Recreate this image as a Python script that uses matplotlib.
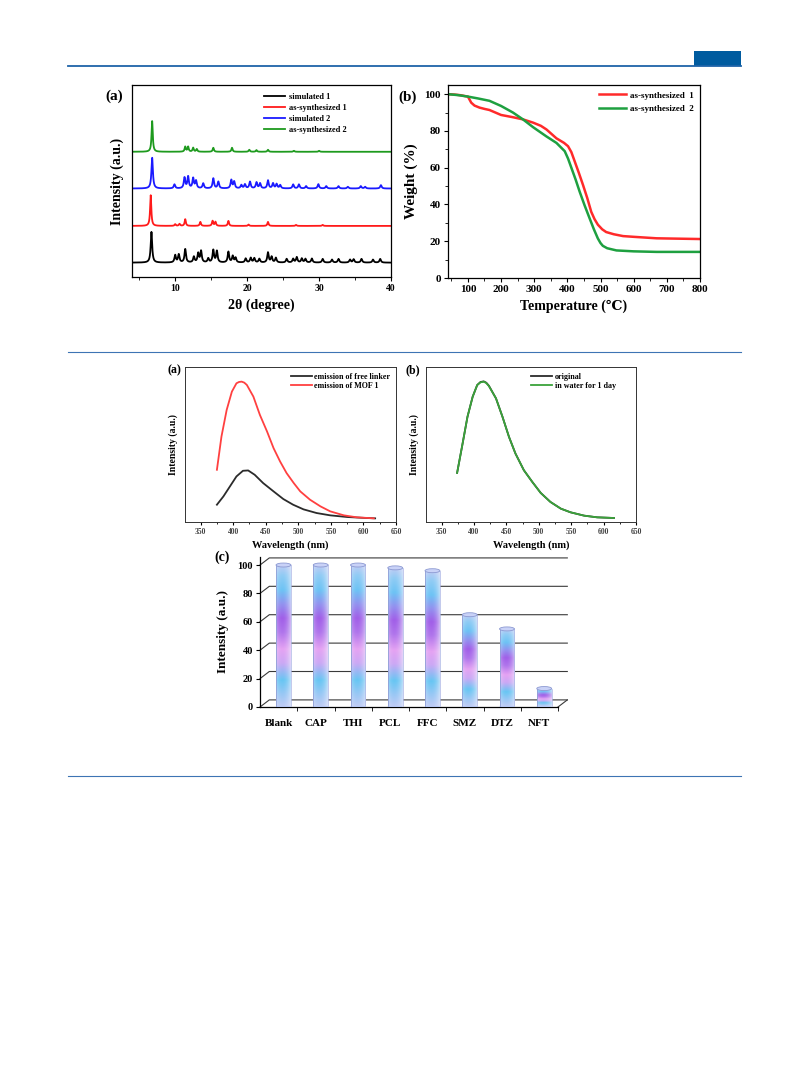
import numpy as np
import matplotlib
matplotlib.use("Agg")
import matplotlib.pyplot as plt
from matplotlib.patches import Ellipse, Rectangle
from matplotlib.lines import Line2D
from matplotlib.colors import LinearSegmentedColormap, to_rgb

plt.rcParams['font.family'] = ['Liberation Serif', 'DejaVu Serif', 'DejaVu Sans']
plt.rcParams['font.weight'] = 'bold'
plt.rcParams['axes.linewidth'] = 0.9

W, H = 809, 1067

# ---------- PXRD peak lists (2theta, relative height) ----------
sim1_pos = [6.7, 10.0, 10.5, 11.4, 12.6, 13.2, 13.6, 14.6, 15.3, 15.8, 17.4, 18.0, 18.4, 19.8,
            20.5, 21.0, 21.7, 22.9, 23.4, 24.0, 25.5, 26.4, 26.9, 27.6, 28.1, 29.0, 30.5,
            31.8, 32.7, 34.3, 34.8, 35.9, 37.5, 38.5]
sim1_int = [92, 22, 24, 40, 17, 27, 34, 12, 37, 34, 32, 19, 14, 12,
            14, 13, 11, 30, 17, 14, 11, 11, 16, 12, 11, 12, 11,
            9, 11, 9, 10, 11, 9, 11]
syn1_pos = [6.6, 10.0, 10.6, 11.4, 13.5, 15.2, 15.6, 17.4, 20.2, 22.9, 26.8, 30.5]
syn1_int = [92, 5, 6, 20, 12, 15, 12, 15, 4, 12, 3, 3]
sim2_pos = [6.8, 9.9, 11.3, 11.8, 12.5, 12.9, 13.9, 15.3, 16.0, 17.8, 18.2, 19.2, 19.7, 20.4,
            21.3, 21.8, 22.9, 23.6, 24.1, 24.6, 26.4, 27.2, 28.2, 29.9, 31.0, 32.7, 34.0,
            35.8, 36.4, 38.6]
sim2_int = [92, 12, 32, 35, 30, 22, 15, 30, 20, 25, 20, 10, 12, 20,
            18, 15, 24, 15, 13, 10, 12, 12, 7, 13, 7, 7, 5,
            7, 5, 10]
syn2_pos = [6.8, 11.4, 11.8, 12.5, 13.0, 15.3, 17.9, 20.3, 21.3, 22.9, 26.5, 30.0]
syn2_int = [92, 15, 15, 12, 8, 12, 12, 6, 5, 6, 3, 3]

# ---------- TGA ----------
temp1 = [40, 60, 80, 90, 100, 110, 120, 135, 150, 165, 200, 235, 266, 297, 320, 337, 367, 390,
         402, 412, 422, 435, 447, 460, 472, 482, 492, 505, 517, 540, 568, 600, 669, 700, 800]
weight1 = [100, 99.8, 99.4, 99.0, 98.7, 95.4, 93.8, 92.7, 92.0, 91.4, 88.7, 87.5, 86.3, 84.5,
           82.8, 80.8, 76.0, 73.5, 71.7, 68.5, 63.5, 57.0, 50.7, 43.5, 36.0, 32.0, 29.0, 26.5,
           25.0, 23.8, 22.8, 22.4, 21.6, 21.5, 21.2]
temp2 = [40, 70, 100, 130, 165, 200, 236, 266, 297, 337, 367, 392, 402, 412, 425, 437, 452, 467,
         480, 492, 500, 507, 520, 548, 600, 669, 800]
weight2 = [100, 99.5, 98.7, 97.7, 96.4, 93.6, 90.0, 86.3, 82.0, 77.0, 73.5, 69.0, 65.0, 60.0,
           53.5, 47.0, 39.5, 32.5, 26.5, 21.5, 19.0, 17.5, 16.2, 15.0, 14.5, 14.2, 14.2]

# ---------- emission spectra ----------
wl_linker = [375, 385, 395, 405, 415, 423, 433, 446, 462, 477, 492, 508, 528, 549, 575, 605, 618]
em_linker = [52, 77, 107, 137, 154, 155, 142, 117, 92, 69, 52, 38, 27, 20, 15, 12, 11]
wl_mof = [375, 382, 390, 398, 405, 409, 413, 417, 421, 431, 441, 452, 462, 472, 482, 493, 503,
          518, 534, 549, 570, 590, 616]
em_mof = [157, 257, 337, 392, 417, 421, 422, 419, 412, 377, 322, 272, 222, 182, 147, 117, 92,
          67, 47, 32, 20, 14, 11]
wl_b = [374, 382, 390, 398, 405, 410, 415, 419, 423, 434, 444, 454, 464, 477, 490, 503, 518,
        534, 549, 570, 590, 616]
em_original = [147, 230, 315, 375, 410, 419, 421, 417, 408, 370, 315, 255, 205, 155, 120, 87,
               60, 40, 29, 19, 14, 12]
em_water = [147, 230, 315, 375, 410, 418, 420, 416, 407, 370, 315, 255, 205, 155, 120, 87,
            60, 40, 29, 19, 14, 12]

# ---------- sensing bars ----------
analytes = ["Blank", "CAP", "THI", "PCL", "FFC", "SMZ", "DTZ", "NFT"]
rel_intensity = [100, 100, 100, 98, 96, 65, 55, 13]


def rect(l, t, r, b):
    return [l / W, 1 - b / H, (r - l) / W, (b - t) / H]


def pattern(x, pos, hts, fwhm):
    g = fwhm / 2.0
    y = np.zeros_like(x)
    for p, h in zip(pos, hts):
        y += h * g ** 2 / ((x - p) ** 2 + g ** 2)
    return y


fig = plt.figure(figsize=(W / 100, H / 100), dpi=100)

# page decorations
fig.add_artist(Line2D([68 / W, 741 / W], [1 - 66 / H] * 2, color='#1f63a8', lw=1.3))
fig.add_artist(Rectangle((694 / W, 1 - 66 / H), 47 / W, 15 / H, color='#005b9f', lw=0))
for yy in (352, 776):
    fig.add_artist(Line2D([68 / W, 741 / W], [1 - yy / H] * 2, color='#3d74b4', lw=0.8))

# ---------- (a) PXRD ----------
ax1 = fig.add_axes(rect(132, 85, 391, 277))
tt = np.linspace(4, 40, 4000)
series = [(sim1_pos, sim1_int, 0, 'black', 'simulated 1', 0.24),
          (syn1_pos, syn1_int, 110, '#ff1a1a', 'as-synthesized 1', 0.2),
          (sim2_pos, sim2_int, 222, '#1a1aff', 'simulated 2', 0.24),
          (syn2_pos, syn2_int, 332, '#1e9a1e', 'as-synthesized 2', 0.2)]
for pos, hts, off, col, lab, fw in series:
    ax1.plot(tt, pattern(tt, pos, hts, fw) + off, color=col, lw=1.3, label=lab)
ax1.set_xlim(4, 40)
ax1.set_ylim(-43, 532)
ax1.set_yticks([])
ax1.set_xticks([10, 20, 30, 40])
ax1.set_xticks([5, 15, 25, 35], minor=True)
ax1.tick_params(axis='x', which='major', direction='out', length=3, labelsize=7, pad=2)
ax1.tick_params(axis='x', which='minor', direction='out', length=2)
ax1.set_xlabel('2θ (degree)', fontsize=10, fontweight='bold', labelpad=4)
ax1.set_ylabel('Intensity (a.u.)', fontsize=10, fontweight='bold', labelpad=6)
ax1.legend(loc='upper right', fontsize=6, frameon=False, handlelength=2.6, handletextpad=0.4,
           labelspacing=0.35, borderaxespad=0.6, bbox_to_anchor=(0.86, 1.0))
fig.text(105 / W, 1 - 96 / H, '(a)', fontsize=11, fontweight='bold', va='center')

# ---------- (b) TGA ----------
ax2 = fig.add_axes(rect(448, 85, 700, 278))
ax2.plot(temp1, weight1, color='#ff2a2a', lw=1.8, label='as-synthesized  1')
ax2.plot(temp2, weight2, color='#1ea040', lw=1.8, label='as-synthesized  2')
ax2.set_xlim(40, 800)
ax2.set_ylim(0, 105)
ax2.set_xticks(range(100, 801, 100))
ax2.set_xticks(range(50, 801, 100), minor=True)
ax2.set_yticks(range(0, 101, 20))
ax2.set_yticks(range(10, 101, 20), minor=True)
ax2.tick_params(which='major', direction='out', length=3, labelsize=8, pad=2)
ax2.tick_params(which='minor', direction='out', length=2)
ax2.set_xlabel('Temperature (℃)', fontsize=10, fontweight='bold', labelpad=4)
ax2.set_ylabel('Weight (%)', fontsize=11, fontweight='bold', labelpad=5)
ax2.legend(loc='upper right', fontsize=6.5, frameon=False, handlelength=3.0, handletextpad=0.4,
           labelspacing=0.6, borderaxespad=0.3)
fig.text(398 / W, 1 - 97 / H, '(b)', fontsize=11, fontweight='bold', va='center')


def emission_axes(r):
    ax = fig.add_axes(r)
    ax.set_xlim(326, 650)
    ax.set_xticks(range(350, 651, 50))
    ax.set_xticks(range(375, 651, 50), minor=True)
    ax.set_yticks([])
    ax.tick_params(axis='x', which='major', direction='out', length=2.5, labelsize=5.5,
                   pad=2, labelcolor='#444444')
    ax.tick_params(axis='x', which='minor', direction='out', length=1.5)
    ax.set_xlabel('Wavelength (nm)', fontsize=7.5, fontweight='bold', labelpad=3)
    ax.set_ylabel('Intensity (a.u.)', fontsize=7, fontweight='bold', labelpad=5)
    for s in ax.spines.values():
        s.set_linewidth(0.7)
        s.set_color('#333333')
    return ax


# ---------- emission (a) ----------
ax3 = emission_axes(rect(185, 367, 396, 522))
ax3.plot(wl_linker, em_linker, color='#2b2b2b', lw=1.3, label='emission of free linker')
ax3.plot(wl_mof, em_mof, color='#ff4040', lw=1.3, label='emission of MOF 1')
ax3.set_ylim(0, 466)
ax3.legend(loc='upper right', fontsize=5.8, frameon=False, handlelength=2.6, handletextpad=0.3,
           labelspacing=0.2, borderaxespad=0.3)
fig.text(167 / W, 1 - 370 / H, '(a)', fontsize=8.5, fontweight='bold', va='center')

# ---------- emission (b) ----------
ax4 = emission_axes(rect(426, 367, 636, 522))
ax4.plot(wl_b, em_original, color='#2b2b2b', lw=1.3, label='original')
ax4.plot(wl_b, em_water, color='#3aa23a', lw=1.3, label='in water for 1 day')
ax4.set_ylim(0, 464)
ax4.legend(loc='upper right', fontsize=5.8, frameon=False, handlelength=2.6, handletextpad=0.3,
           labelspacing=0.2, borderaxespad=0.3, bbox_to_anchor=(0.93, 1.0))
fig.text(405 / W, 1 - 370 / H, '(b)', fontsize=8.5, fontweight='bold', va='center')

# ---------- (c) bar chart ----------
ax5 = fig.add_axes(rect(260, 556.5, 558, 707))
dx, dy = 0.25, 5.0
ticks_c = [0, 20, 40, 60, 80, 100]
for v in ticks_c:
    ax5.plot([-0.5, -0.5 + dx, 7.5 + dx], [v, v + dy, v + dy], color='#3a3a3a', lw=0.8,
             zorder=1, clip_on=False)
ax5.plot([7.5, 7.5 + dx], [0, dy], color='#3a3a3a', lw=0.8, zorder=1, clip_on=False)

stops = [(0.00, '#b8c8f4'), (0.08, '#92c4f4'), (0.18, '#5cc2f2'), (0.30, '#c8a2f4'),
         (0.40, '#e49cf2'), (0.52, '#aa6aea'), (0.62, '#9a52e6'), (0.72, '#8a8aee'),
         (0.82, '#62bff4'), (0.92, '#86c8f4'), (1.00, '#bcc8f4')]
bar_cmap = LinearSegmentedColormap.from_list('bars', stops)
nrow, ncol = 200, 40
vert = bar_cmap(np.linspace(0, 1, nrow))[:, :3]
u = np.linspace(0, 1, ncol)
edge = np.clip(((u - 0.42) / 0.58) ** 2, 0, 1) * 0.55 + 0.08
light = np.array(to_rgb('#eef0fc'))
img = vert[:, None, :] * (1 - edge[None, :, None]) + light * edge[None, :, None]
img = img[::-1]

bw = 0.4
for i, val in enumerate(rel_intensity):
    xc = i + 0.13
    x0, x1 = xc - bw / 2, xc + bw / 2
    ax5.imshow(img, extent=(x0, x1, 0.5, val), aspect='auto', zorder=3, interpolation='bilinear')
    ax5.plot([x0, x0], [0.5, val], color='#8f9fd6', lw=0.6, zorder=4)
    ax5.plot([x1, x1], [0.5, val], color='#aab4e4', lw=0.5, zorder=4)
    ax5.add_patch(Ellipse((xc, 0.5), bw, 2.6, facecolor='#b4c6f2', edgecolor='none', zorder=2.9))
    ax5.add_patch(Ellipse((xc, val), bw, 2.8, facecolor='#c9d2f7', edgecolor='#8d9ad2',
                          lw=0.6, zorder=5))

ax5.set_xlim(-0.5, 7.5)
ax5.set_ylim(0, 106)
ax5.spines['top'].set_visible(False)
ax5.spines['right'].set_visible(False)
ax5.set_yticks(ticks_c)
ax5.set_xticks(np.arange(8))
ax5.set_xticklabels(analytes)
ax5.set_xticks(np.arange(0.5, 8, 1), minor=True)
ax5.tick_params(axis='y', direction='out', length=3, labelsize=7.5, pad=2)
ax5.tick_params(axis='x', which='major', length=0, labelsize=8, pad=9)
ax5.tick_params(axis='x', which='minor', direction='out', length=3)
ax5.set_ylabel('Intensity (a.u.)', fontsize=9.5, fontweight='bold', labelpad=6)
fig.text(214 / W, 1 - 557 / H, '(c)', fontsize=10, fontweight='bold', va='center')

fig.savefig('out.png', dpi=100)
